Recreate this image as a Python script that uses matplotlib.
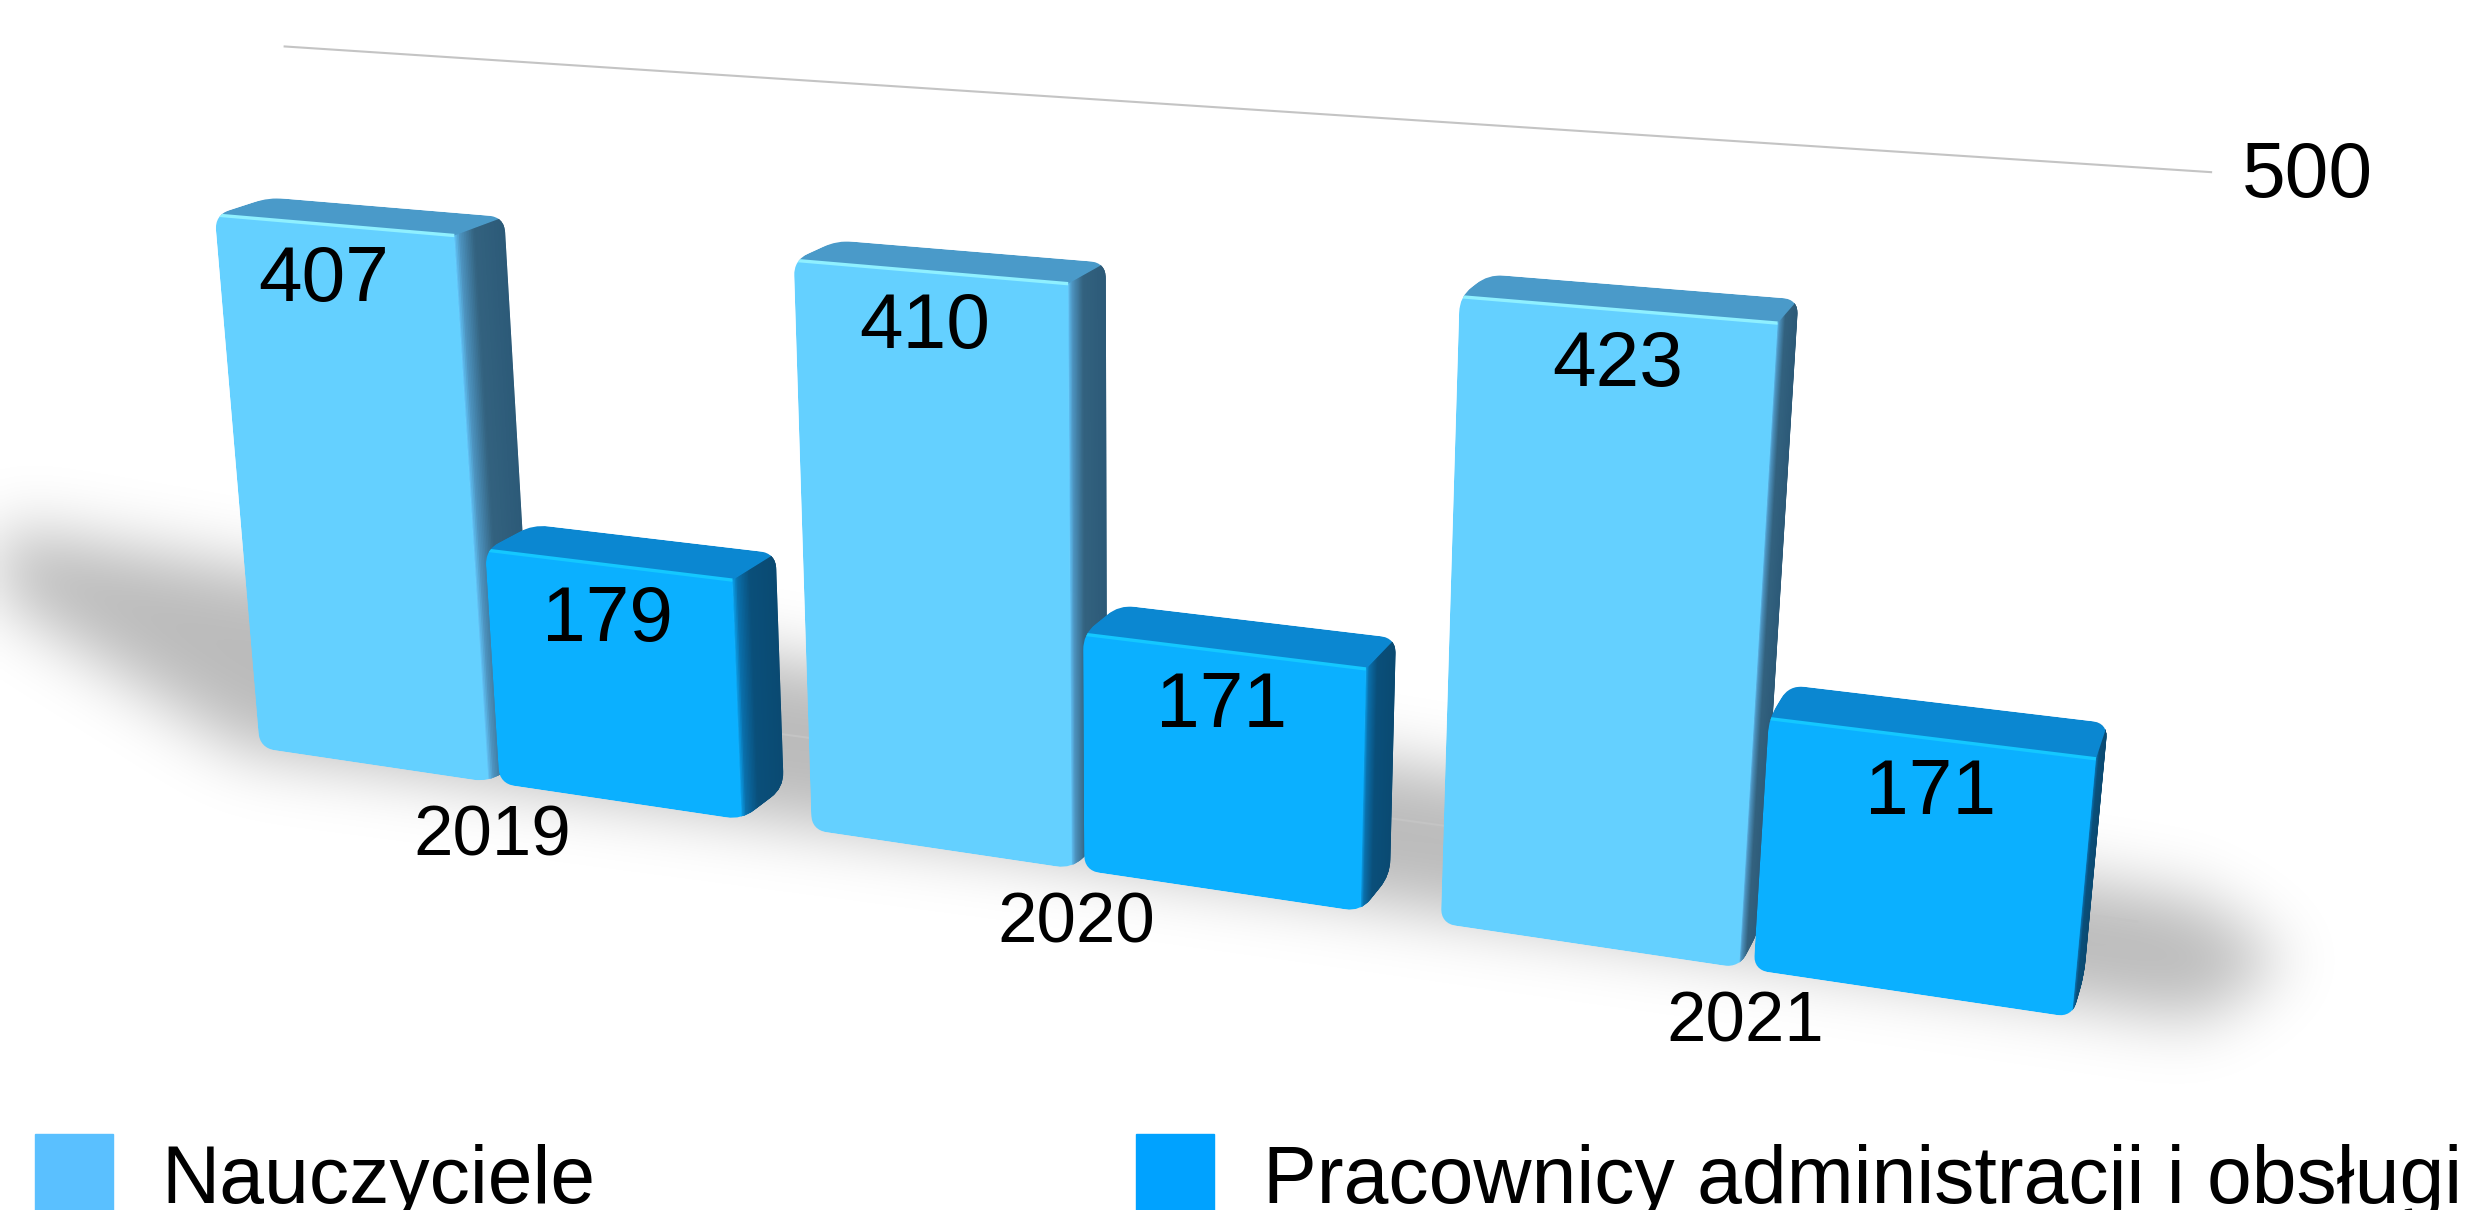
"""3D-look grouped bars (Nauczyciele / Pracownicy) drawn through a fitted camera."""
import matplotlib
matplotlib.use("Agg")
import matplotlib.pyplot as plt
import numpy as np
from matplotlib.patches import Patch, Polygon
from matplotlib.path import Path
from matplotlib.transforms import Transform

plt.rcParams["font.family"] = ["Liberation Sans", "DejaVu Sans"]

YEARS = ["2019", "2020", "2021"]
NAUCZYCIELE = [407, 410, 423]
PRACOWNICY = [179, 171, 171]
SERIES_NAMES = ["Nauczyciele", "Pracownicy administracji i obsługi"]
AXIS_TICK = 500

W, H = 2479, 1210
BAR_LEFT, BAR_IN, BAR_OUT = -0.44, 0.01, 0.44
N_LABEL_DX = [-6.5, -3, 1.5]
P_LABEL_DX = [0.5, -0.5, 0.5]

# camera calibration: world (u, value, depth) -> image pixel
CALIB = [
    (-0.44, 407, 0, 209, 217), (-0.01, 407, 0, 454, 239), (-0.44, 407, 1, 271, 195), (-0.01, 407, 1, 499, 215),
    (-0.44, 0, 0, 262, 750), (-0.01, 0, 0, 470, 782),
    (0.01, 179, 0, 488, 552), (0.44, 179, 0, 736, 583), (0.01, 179, 1, 539, 523), (0.44, 179, 1, 777, 552),
    (0.01, 0, 0, 504, 786), (0.44, 0, 0, 740, 820), (0.44, 0, 1, 786, 785),
    (0.56, 410, 0, 792, 264), (0.99, 410, 0, 1074, 289), (0.56, 410, 1, 844, 238), (0.99, 410, 1, 1103, 261),
    (0.56, 0, 0, 814, 831), (0.99, 0, 0, 1071, 867),
    (1.01, 171, 0, 1086, 636), (1.44, 171, 0, 1368, 672), (1.01, 171, 1, 1125, 601), (1.44, 171, 1, 1396, 636),
    (1.01, 0, 0, 1087, 870), (1.44, 0, 0, 1359, 909), (1.44, 0, 1, 1388, 877),
    (1.56, 423, 0, 1458, 297), (1.56, 423, 1, 1478, 272), (1.99, 423, 1, 1798, 296),
    (1.56, 0, 0, 1436, 914), (1.99, 0, 0, 1744, 961),
    (2.01, 171, 0, 1767, 718), (2.44, 171, 0, 2104, 758), (2.01, 171, 1, 1790, 679), (2.44, 171, 1, 2106, 727),
    (2.01, 0, 0, 1750, 965), (2.44, 0, 0, 2073, 1012), (2.44, 0, 1, 2079, 1003),
]


def fit_camera(rows):
    eqs = []
    for u, v, d, px, py in rows:
        X = [u, v / 100, d, 1]
        x, y = px / 1000, py / 1000
        eqs.append(X + [0, 0, 0, 0] + [-x * c for c in X])
        eqs.append([0, 0, 0, 0] + X + [-y * c for c in X])
    return np.linalg.svd(np.array(eqs))[2][-1].reshape(3, 4)


CAM = fit_camera(CALIB)


def project(u, v, d=0):
    u, v = np.broadcast_arrays(np.asarray(u, float), np.asarray(v, float))
    p = CAM @ np.stack([u, v / 100, np.full(u.shape, d, float), np.ones(u.shape)])
    return np.stack([p[0] / p[2], p[1] / p[2]], axis=-1) * 1000


class FrontPlane(Transform):
    """(u, value) at a fixed depth -> image pixels."""
    input_dims = output_dims = 2
    has_inverse = False

    def __init__(self, plane=0):
        super().__init__()
        self.plane = plane

    def transform_non_affine(self, values):
        values = np.asarray(values, float)
        return project(values[:, 0], values[:, 1], self.plane)


def hull(points):
    pts = sorted(map(tuple, points))

    def half(seq):
        out = []
        for p in seq:
            while len(out) > 1:
                a = np.subtract(out[-1], out[-2])
                b = np.subtract(p, out[-1])
                if a[0] * b[1] - a[1] * b[0] > 0:
                    break
                out.pop()
            out.append(p)
        return out[:-1]
    return np.array(half(pts) + half(pts[::-1]))


def rounded(points, r=16):
    verts, codes = [], []
    n = len(points)
    for i in range(n):
        p, a, b = points[i], points[i - 1], points[(i + 1) % n]
        ra = min(r, np.linalg.norm(a - p) / 2)
        rb = min(r, np.linalg.norm(b - p) / 2)
        p0 = p + (a - p) / np.linalg.norm(a - p) * ra
        p1 = p + (b - p) / np.linalg.norm(b - p) * rb
        verts += [p0, p, p1]
        codes += [Path.MOVETO if i == 0 else Path.LINETO, Path.CURVE3, Path.CURVE3]
    verts.append(verts[0])
    codes.append(Path.CLOSEPOLY)
    return Path(verts, codes)


def ramp(stops, colors, t):
    rgb = np.array([matplotlib.colors.to_rgb(c) for c in colors])
    return [np.interp(t, stops, rgb[:, k]) for k in range(3)]


def draw_shadow(ax):
    outline = Path([(-60, 515), (2200, 900), (2285, 960), (2200, 1020), (1000, 850), (240, 750), (-60, 560)])
    step = 4
    gx, gy = np.meshgrid(np.arange(0, W, step), np.arange(0, H, step))
    mask = outline.contains_points(np.c_[gx.ravel(), gy.ravel()]).reshape(gx.shape).astype(float)
    k = np.exp(-0.5 * (np.arange(-24, 25) / 8.0) ** 2)
    k /= k.sum()
    for axis in (0, 1):
        mask = np.apply_along_axis(lambda a: np.convolve(a, k, mode="same"), axis, mask)
    img = np.zeros(mask.shape + (4,))
    img[..., 3] = mask * 0.27
    ax.imshow(img, extent=(0, W, H, 0), aspect="auto", zorder=1, interpolation="bilinear")


def draw_box(ax, u0, u1, value, front, top, glow, side_colors):
    z = 3 + u0
    corners = [project(u, v, d) for u in (u0, u1) for v in (0, value) for d in (0, 1)]
    clip = rounded(hull(np.array(corners)))
    parts = []
    # side face, shaded in thin strips from the front edge to the back
    depth = np.linspace(0, 1, 31)
    for d0, d1 in zip(depth[:-1], depth[1:]):
        quad = [project(u1, 0, d0), project(u1, value, d0), project(u1, value, d1 + 0.02), project(u1, 0, d1 + 0.02)]
        color = ramp([0, 0.12, 0.4, 1], side_colors, (d0 + d1) / 2)
        parts.append(ax.add_patch(Polygon(quad, fc=color, ec=color, lw=0.8, zorder=z)))
    quad = [project(u0, value, 0), project(u1, value, 0), project(u1, value, 1), project(u0, value, 1)]
    parts.append(ax.add_patch(Polygon(quad, fc=top, ec="none", zorder=z + 0.01)))
    bar = ax.bar(u0, value, u1 - u0, align="edge", color=front, linewidth=0, zorder=z + 0.02,
                 transform=FrontPlane(0) + ax.transData)[0]
    parts.append(bar)
    line = ax.plot([u0, u1], [value, value], color=glow, lw=2.4, zorder=z + 0.03,
                   solid_capstyle="butt", transform=FrontPlane(0) + ax.transData)[0]
    parts.append(line)
    for art in parts:
        art.set_clip_path(clip, ax.transData)


fig = plt.figure(figsize=(W / 100, H / 100), dpi=100)
ax = fig.add_axes([0, 0, 1, 1])
ax.set_autoscale_on(False)
ax.set_xlim(0, W)
ax.set_ylim(H, 0)
ax.axis("off")

draw_shadow(ax)

# back wall lines
WALL = FrontPlane(2.5)
for tick in (0, AXIS_TICK):
    ax.plot([-0.54, 2.49], [tick, tick], color="#c4c4c4", lw=1.5, zorder=1.5,
            transform=WALL + ax.transData)
ax.annotate(str(AXIS_TICK), xy=(2.49, AXIS_TICK), xycoords=WALL + ax.transData,
            xytext=(22, -3), textcoords="offset points", fontsize=56.5, va="center", ha="left")

N_SIDE = ["#62c6fb", "#4d93bf", "#33627f", "#2c5a78"]
P_SIDE = ["#0aa6f2", "#0a6fab", "#0a4f7a", "#0a4a72"]
tr = FrontPlane(0) + ax.transData
for i, year in enumerate(YEARS):
    draw_box(ax, i + BAR_LEFT, i - BAR_IN, NAUCZYCIELE[i], "#64d0ff", "#4a9ac9", "#8ff0ff", N_SIDE)
    draw_box(ax, i + BAR_IN, i + BAR_OUT, PRACOWNICY[i], "#0bb0ff", "#0b87d1", "#14c8ff", P_SIDE)

    ax.annotate(str(NAUCZYCIELE[i]), xy=(i + (BAR_LEFT - BAR_IN) / 2, NAUCZYCIELE[i]), xycoords=tr,
                xytext=(N_LABEL_DX[i], -40), textcoords="offset points",
                fontsize=56.5, ha="center", va="center", zorder=10)
    ax.annotate(str(PRACOWNICY[i]), xy=(i + (BAR_IN + BAR_OUT) / 2, PRACOWNICY[i]), xycoords=tr,
                xytext=(P_LABEL_DX[i], -40), textcoords="offset points",
                fontsize=56.5, ha="center", va="center", zorder=10)
    ax.annotate(year, xy=(i, 0), xycoords=tr, xytext=(-1, -39.5), textcoords="offset points",
                fontsize=51, ha="center", va="center", zorder=10)

handles = [Patch(color="#5ac0ff"), Patch(color="#00a2ff")]
ax.legend(handles, SERIES_NAMES, ncol=2, frameon=False, fontsize=58, loc="upper left",
          bbox_to_anchor=(35, 1134), bbox_transform=ax.transData, borderpad=0, borderaxespad=0,
          handlelength=0.97, handleheight=1.22, handletextpad=0.6, columnspacing=6.71)

fig.savefig("out.png", dpi=100)
